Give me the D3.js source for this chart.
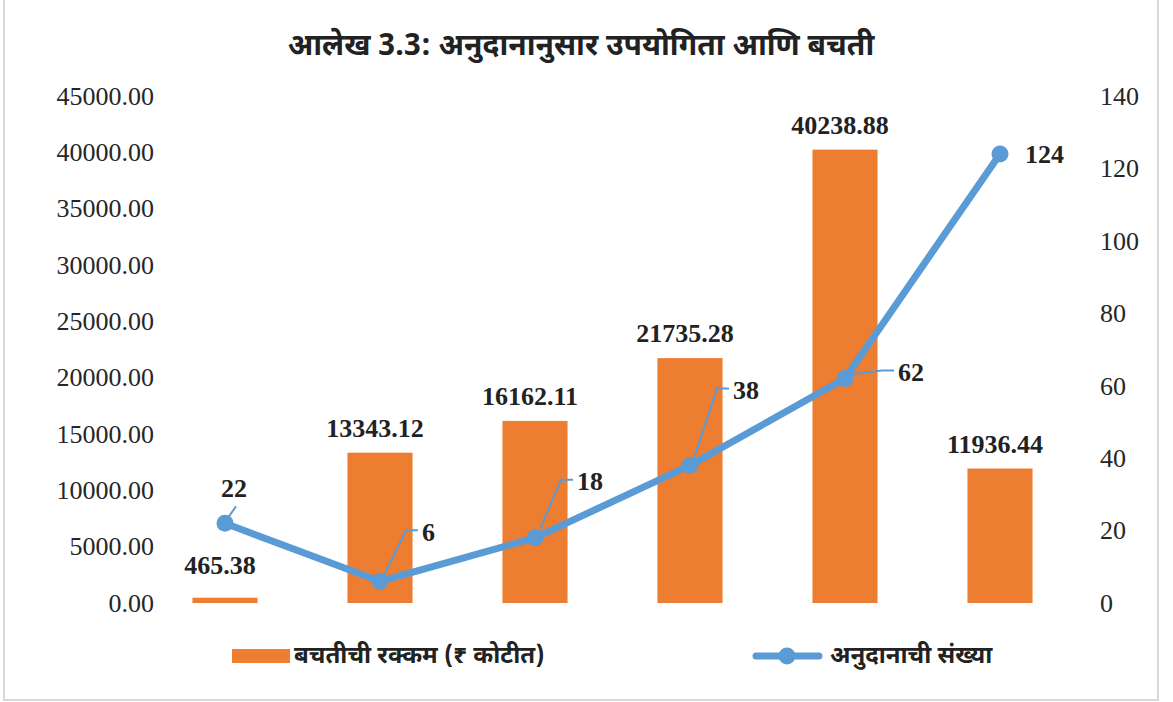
<!DOCTYPE html>
<html>
<head>
<meta charset="utf-8">
<script src="https://cdn.jsdelivr.net/npm/d3@7"></script>
<style>
  body { margin: 0; background: #fff; }
  .num { font-family: "Times New Roman", "Liberation Serif", serif; }
  .dev { font-family: "Noto Sans Devanagari", "Noto Sans", "Lohit Devanagari", sans-serif; }
</style>
</head>
<body>
<svg id="chart"></svg>
<script>
// chart data
const categories = ["1", "2", "3", "4", "5", "6"];
const savings = [465.38, 13343.12, 16162.11, 21735.28, 40238.88, 11936.44];
const grants = [22, 6, 18, 38, 62, 124];
const leftTicks = [0, 5000, 10000, 15000, 20000, 25000, 30000, 35000, 40000, 45000];
const rightTicks = [0, 20, 40, 60, 80, 100, 120, 140];
const titleText = "आलेख 3.3: अनुदानानुसार उपयोगिता आणि बचती";
const barSeriesName = "बचतीची रक्कम (₹ कोटीत)";
const lineSeriesName = "अनुदानाची संख्या";

// label placement for the line (offset from the point, start of text)
const lineLabelPos = [
  {dx: -4, dy: -35, leader: "short"},
  {dx: 42, dy: -49, leader: "elbow"},
  {dx: 42, dy: -56, leader: "elbow"},
  {dx: 43, dy: -75, leader: "elbow"},
  {dx: 53, dy: -6, leader: "elbow"},
  {dx: 25, dy: 1, leader: "none"}
];

const W = 1173, H = 702;
const margin = {top: 96, bottom: 99, left: 147.5, right: 95.5};
const orange = "#ED7D31", blue = "#5B9BD5";

const svg = d3.select("#chart").attr("width", W).attr("height", H);

// outer frame
svg.append("rect")
  .attr("x", 4).attr("y", -6)
  .attr("width", 1154).attr("height", 706)
  .attr("fill", "none")
  .attr("stroke", "#d9d9d9")
  .attr("stroke-width", 2);

const x = d3.scaleBand()
  .domain(categories)
  .range([margin.left, W - margin.right])
  .paddingInner(0.58)
  .paddingOuter(0.29);

const yL = d3.scaleLinear().domain([0, 45000]).range([H - margin.bottom, margin.top]);
const yR = d3.scaleLinear().domain([0, 140]).range([H - margin.bottom, margin.top]);

// title
svg.append("text")
  .attr("class", "dev")
  .attr("x", 581).attr("y", 47)
  .attr("text-anchor", "middle")
  .attr("dominant-baseline", "central")
  .attr("font-size", "30px")
  .attr("font-weight", "bold")
  .attr("fill", "#222")
  .text(titleText);

// axes (labels only)
const leftAxis = d3.axisLeft(yL).tickValues(leftTicks)
  .tickFormat(d => d3.format(".2f")(d)).tickSize(0).tickPadding(0);
const rightAxis = d3.axisRight(yR).tickValues(rightTicks).tickSize(0).tickPadding(0);

const gL = svg.append("g").attr("transform", "translate(154,0)").call(leftAxis);
const gR = svg.append("g").attr("transform", "translate(1100,0)").call(rightAxis);
[gL, gR].forEach(g => {
  g.select(".domain").remove();
  g.selectAll("text")
    .attr("class", "num")
    .attr("font-size", "26px")
    .attr("fill", "#262626");
});

// bars
svg.append("g").selectAll("rect")
  .data(savings)
  .join("rect")
    .attr("x", (d, i) => x(categories[i]))
    .attr("y", d => yL(d))
    .attr("width", x.bandwidth())
    .attr("height", d => yL(0) - yL(d))
    .attr("fill", orange);

svg.append("g").selectAll("text")
  .data(savings)
  .join("text")
    .attr("class", "num")
    .attr("x", (d, i) => x(categories[i]) + x.bandwidth() / 2 - 5)
    .attr("y", (d, i) => yL(d) - (i === 0 ? 24 : 16))
    .attr("text-anchor", "middle")
    .attr("font-size", "26px")
    .attr("font-weight", "bold")
    .attr("fill", "#222")
    .text(d => d3.format(".2f")(d));

// line
const cx = i => x(categories[i]) + x.bandwidth() / 2;
const line = d3.line().x((d, i) => cx(i)).y(d => yR(d));

svg.append("path")
  .datum(grants)
  .attr("d", line)
  .attr("fill", "none")
  .attr("stroke", blue)
  .attr("stroke-width", 7)
  .attr("stroke-linejoin", "round");

svg.append("g").selectAll("circle")
  .data(grants)
  .join("circle")
    .attr("cx", (d, i) => cx(i))
    .attr("cy", d => yR(d))
    .attr("r", 8.5)
    .attr("fill", blue);

// leader lines
const leaders = svg.append("g");
grants.forEach((d, i) => {
  const p = lineLabelPos[i];
  const px = cx(i), py = yR(d);
  const lx = px + p.dx, ly = py + p.dy;
  let pts = null;
  if (p.leader === "elbow") {
    pts = [[px + 3, py - 4], [lx - 16, ly - 2], [lx - 4, ly - 2]];
  } else if (p.leader === "short") {
    pts = [[px + 4, py - 7], [px + 11, py - 17]];
  }
  if (pts) {
    leaders.append("path")
      .attr("d", d3.line()(pts))
      .attr("fill", "none")
      .attr("stroke", blue)
      .attr("stroke-width", 2);
  }
});

svg.append("g").selectAll("text")
  .data(grants)
  .join("text")
    .attr("class", "num")
    .attr("x", (d, i) => cx(i) + lineLabelPos[i].dx)
    .attr("y", (d, i) => yR(d) + lineLabelPos[i].dy)
    .attr("dominant-baseline", "central")
    .attr("font-size", "26px")
    .attr("font-weight", "bold")
    .attr("fill", "#222")
    .text(d => d);

// legend
const legend = svg.append("g");
legend.append("rect")
  .attr("x", 232).attr("y", 649)
  .attr("width", 58).attr("height", 14)
  .attr("fill", orange);
legend.append("text")
  .attr("class", "dev")
  .attr("x", 294).attr("y", 657)
  .attr("dominant-baseline", "central")
  .attr("font-size", "24px")
  .attr("font-weight", "bold")
  .attr("fill", "#222")
  .text(barSeriesName);

legend.append("line")
  .attr("x1", 756).attr("x2", 819)
  .attr("y1", 656).attr("y2", 656)
  .attr("stroke", blue)
  .attr("stroke-width", 7)
  .attr("stroke-linecap", "round");
legend.append("circle")
  .attr("cx", 787).attr("cy", 656)
  .attr("r", 8.5)
  .attr("fill", blue);
legend.append("text")
  .attr("class", "dev")
  .attr("x", 830).attr("y", 657)
  .attr("dominant-baseline", "central")
  .attr("font-size", "24px")
  .attr("font-weight", "bold")
  .attr("fill", "#222")
  .text(lineSeriesName);
</script>
</body>
</html>
